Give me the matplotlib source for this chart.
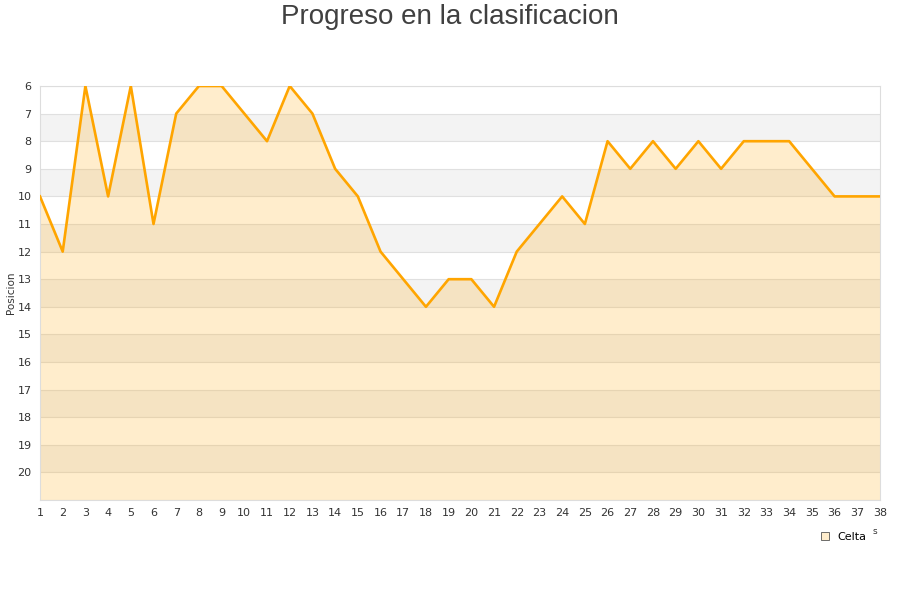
import matplotlib
matplotlib.use("Agg")
import matplotlib.pyplot as plt
from matplotlib.lines import Line2D

# Data: position of Celta after each round
jornadas = list(range(1, 39))
posicion = [10, 12, 6, 10, 6, 11, 7, 6, 6, 7,
            8, 6, 7, 9, 10, 12, 13, 14, 13, 13,
            14, 12, 11, 10, 11, 8, 9, 8, 9, 8,
            9, 8, 8, 8, 9, 10, 10, 10]
y_ticks = list(range(6, 21))

fig = plt.figure(figsize=(9, 6), dpi=100)
ax = fig.add_axes([40 / 900, 100 / 600, 840 / 900, 414 / 600])

# alternating background bands
for y0 in range(7, 21, 2):
    ax.axhspan(y0, y0 + 1, color="#f3f3f3", zorder=0, lw=0)
for y in range(6, 22):
    ax.axhline(y, color="#e0e0e0", lw=0.8, zorder=1)

ax.fill_between(jornadas, posicion, 21, color="#FFA500", alpha=0.2, lw=0, zorder=2)
ax.plot(jornadas, posicion, color="#FFA500", lw=1.9, zorder=3)

ax.set_xlim(1, 38)
ax.set_ylim(21, 6)
ax.set_xticks(jornadas)
ax.set_yticks(y_ticks)
ax.tick_params(axis="both", length=0, labelsize=8, colors="#333333", pad=6)
for s in ["top", "right", "bottom", "left"]:
    ax.spines[s].set_color("#dddddd")
    ax.spines[s].set_linewidth(0.8)

fig.text(11 / 900, 1 - 293 / 600, "Posicion", rotation=90, ha="center", va="center",
         fontsize=7.5, color="#333333")

fig.text(0.5, 1 - 17 / 600, "Progreso en la clasificacion", ha="center", va="center",
         fontsize=20, color="#404040", family="Liberation Sans")
fig.text(875 / 900, 1 - 531 / 600, "s", ha="center", va="center", fontsize=6.5, color="#333333")

handle = Line2D([], [], marker="s", linestyle="none", markersize=6,
                markerfacecolor="#FFEDCC", markeredgecolor="#555555", markeredgewidth=0.6)
fig.legend([handle], ["Celta"], loc="center", bbox_to_anchor=(843 / 900, 1 - 537 / 600),
           frameon=False, fontsize=8, handletextpad=0.6, handlelength=1.0)

fig.savefig("out.png", dpi=100)
